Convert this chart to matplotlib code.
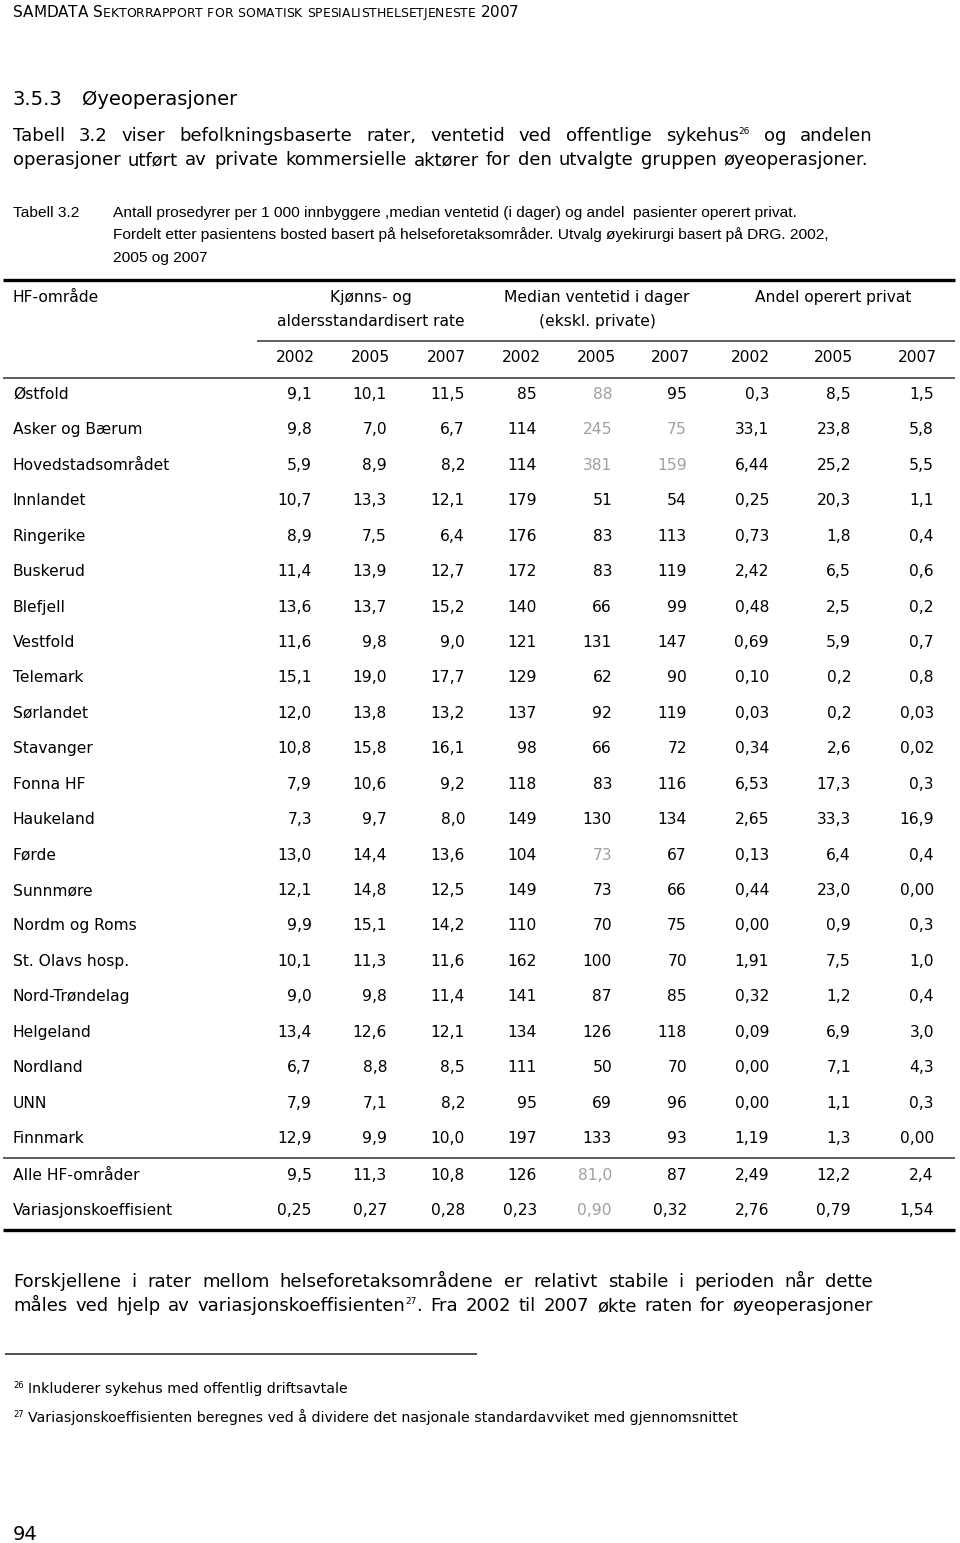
import re
import matplotlib
matplotlib.use("Agg")
import matplotlib.pyplot as plt

# ---- table data ----
regions = ["Østfold", "Asker og Bærum", "Hovedstadsområdet", "Innlandet", "Ringerike",
           "Buskerud", "Blefjell", "Vestfold", "Telemark", "Sørlandet", "Stavanger",
           "Fonna HF", "Haukeland", "Førde", "Sunnmøre", "Nordm og Roms", "St. Olavs hosp.",
           "Nord-Trøndelag", "Helgeland", "Nordland", "UNN", "Finnmark"]

rate_2002 = ["9,1", "9,8", "5,9", "10,7", "8,9", "11,4", "13,6", "11,6", "15,1", "12,0", "10,8",
             "7,9", "7,3", "13,0", "12,1", "9,9", "10,1", "9,0", "13,4", "6,7", "7,9", "12,9"]
rate_2005 = ["10,1", "7,0", "8,9", "13,3", "7,5", "13,9", "13,7", "9,8", "19,0", "13,8", "15,8",
             "10,6", "9,7", "14,4", "14,8", "15,1", "11,3", "9,8", "12,6", "8,8", "7,1", "9,9"]
rate_2007 = ["11,5", "6,7", "8,2", "12,1", "6,4", "12,7", "15,2", "9,0", "17,7", "13,2", "16,1",
             "9,2", "8,0", "13,6", "12,5", "14,2", "11,6", "11,4", "12,1", "8,5", "8,2", "10,0"]
wait_2002 = ["85", "114", "114", "179", "176", "172", "140", "121", "129", "137", "98",
             "118", "149", "104", "149", "110", "162", "141", "134", "111", "95", "197"]
wait_2005 = ["88", "245", "381", "51", "83", "83", "66", "131", "62", "92", "66",
             "83", "130", "73", "73", "70", "100", "87", "126", "50", "69", "133"]
wait_2007 = ["95", "75", "159", "54", "113", "119", "99", "147", "90", "119", "72",
             "116", "134", "67", "66", "75", "70", "85", "118", "70", "96", "93"]
priv_2002 = ["0,3", "33,1", "6,44", "0,25", "0,73", "2,42", "0,48", "0,69", "0,10", "0,03", "0,34",
             "6,53", "2,65", "0,13", "0,44", "0,00", "1,91", "0,32", "0,09", "0,00", "0,00", "1,19"]
priv_2005 = ["8,5", "23,8", "25,2", "20,3", "1,8", "6,5", "2,5", "5,9", "0,2", "0,2", "2,6",
             "17,3", "33,3", "6,4", "23,0", "0,9", "7,5", "1,2", "6,9", "7,1", "1,1", "1,3"]
priv_2007 = ["1,5", "5,8", "5,5", "1,1", "0,4", "0,6", "0,2", "0,7", "0,8", "0,03", "0,02",
             "0,3", "16,9", "0,4", "0,00", "0,3", "1,0", "0,4", "3,0", "4,3", "0,3", "0,00"]

summary_labels = ["Alle HF-områder", "Variasjonskoeffisient"]
alle_hf = ["9,5", "11,3", "10,8", "126", "81,0", "87", "2,49", "12,2", "2,4"]
var_koeff = ["0,25", "0,27", "0,28", "0,23", "0,90", "0,32", "2,76", "0,79", "1,54"]

years = ["2002", "2005", "2007"] * 3
grey_cells = [(0, 4), (1, 4), (1, 5), (2, 4), (2, 5), (13, 4)]
grey_summary = [(0, 4), (1, 4)]

# ---- layout ----
W, H = 960, 1543
fig = plt.figure(figsize=(9.6, 15.43), dpi=100)
ax = fig.add_axes([0, 0, 1, 1])
ax.set_xlim(0, W)
ax.set_ylim(H, 0)
ax.axis("off")
fig.canvas.draw()
rend = fig.canvas.get_renderer()

VERD = "DejaVu Sans"
ARIAL = "Liberation Sans"
GREY = "#a0a0a0"


def width(s, size, family):
    t = ax.text(0, 0, s, fontsize=size, family=family)
    w = t.get_window_extent(renderer=rend).width
    t.remove()
    return w


def space_w(size, family):
    return width("a a", size, family) - width("aa", size, family)


def draw_runs(x, y, runs, family, color="black", draw=True):
    # runs: (text, size, rise)
    for s, size, rise in runs:
        if draw:
            ax.text(x, y - rise, s, fontsize=size, family=family, va="baseline",
                    ha="left", color=color)
        x += width(s, size, family)
    return x


def word_runs(word, size):
    runs = []
    for part in re.split(r"(\^\d+)", word):
        if not part:
            continue
        if part.startswith("^"):
            runs.append((part[1:], size * 0.5, size * 0.55))
        else:
            runs.append((part, size, 0))
    return runs


def justify(line, x0, x1, y, size, family=VERD):
    words = [word_runs(w, size) for w in line.split()]
    ws = [draw_runs(0, 0, r, family, draw=False) for r in words]
    gap = (x1 - x0 - sum(ws)) / (len(words) - 1)
    x = x0
    for r, w in zip(words, ws):
        draw_runs(x, y, r, family)
        x += w + gap


def small_caps(x, y, s, big, small, family=VERD):
    sp = space_w(big, family)
    for w in s.split():
        runs = []
        for ch in w:
            if ch.islower():
                runs.append((ch.upper(), small, 0))
            else:
                runs.append((ch, big, 0))
        x = draw_runs(x, y, runs, family) + sp


# running head
small_caps(13, 17, "SAMDATA Sektorrapport for somatisk spesialisthelsetjeneste 2007", 11.0, 8.95)

# heading
ax.text(13, 105, "3.5.3", fontsize=14, family=VERD, va="baseline")
ax.text(82, 105, "Øyeoperasjoner", fontsize=14, family=VERD, va="baseline")

# paragraph
BODY = 13.0
justify("Tabell 3.2 viser befolkningsbaserte rater, ventetid ved offentlige sykehus^26 og andelen",
        13, 873, 141, BODY)
justify("operasjoner utført av private kommersielle aktører for den utvalgte gruppen øyeoperasjoner.",
        13, 868, 165, BODY)

# caption
CAP = 11.15
ax.text(13, 217, "Tabell 3.2", fontsize=CAP, family=ARIAL, va="baseline")
cap_lines = ["Antall prosedyrer per 1 000 innbyggere ,median ventetid (i dager) og andel  pasienter operert privat.",
             "Fordelt etter pasientens bosted basert på helseforetaksområder. Utvalg øyekirurgi basert på DRG. 2002,",
             "2005 og 2007"]
for i, s in enumerate(cap_lines):
    ax.text(113, 217 + 22.5 * i, s, fontsize=CAP, family=ARIAL, va="baseline")

# table
TS = 11.2
columns = [rate_2002, rate_2005, rate_2007, wait_2002, wait_2005, wait_2007,
           priv_2002, priv_2005, priv_2007]
col_right = [312, 387, 465, 537, 612, 687, 769, 851, 934]
head_right = [315, 390, 466, 541, 616, 690, 770, 853, 937]

ax.hlines(280, 3, 955, color="black", lw=2.4)
ax.hlines(341, 257, 955, color="#333333", lw=1.1)
ax.hlines(378, 3, 955, color="#333333", lw=1.1)
ax.hlines(1158, 3, 955, color="#333333", lw=1.1)
ax.hlines(1230, 3, 955, color="black", lw=2.4)

ax.text(13, 302, "HF-område", fontsize=TS, family=VERD, va="baseline")
groups = [("Kjønns- og", "aldersstandardisert rate", 371),
          ("Median ventetid i dager", "(ekskl. private)", 597),
          ("Andel operert privat", "", 833)]
for l1, l2, cx in groups:
    ax.text(cx, 302, l1, fontsize=TS, family=VERD, va="baseline", ha="center")
    if l2:
        ax.text(cx, 326, l2, fontsize=TS, family=VERD, va="baseline", ha="center")
for yr, xr in zip(years, head_right):
    ax.text(xr, 362, yr, fontsize=TS, family=VERD, va="baseline", ha="right")

for i, name in enumerate(regions):
    yb = 399 + 35.43 * i
    ax.text(13, yb, name, fontsize=TS, family=VERD, va="baseline")
    for j, col in enumerate(columns):
        c = GREY if (i, j) in grey_cells else "black"
        ax.text(col_right[j], yb, col[i], fontsize=TS, family=VERD, va="baseline",
                ha="right", color=c)

for i, (name, vals) in enumerate(zip(summary_labels, [alle_hf, var_koeff])):
    yb = 1180 + 35 * i
    ax.text(13, yb, name, fontsize=TS, family=VERD, va="baseline")
    for j, v in enumerate(vals):
        c = GREY if (i, j) in grey_summary else "black"
        ax.text(col_right[j], yb, v, fontsize=TS, family=VERD, va="baseline",
                ha="right", color=c)

# closing paragraph
justify("Forskjellene i rater mellom helseforetaksområdene er relativt stabile i perioden når dette",
        13, 873, 1287, BODY)
justify("måles ved hjelp av variasjonskoeffisienten^27. Fra 2002 til 2007 økte raten for øyeoperasjoner",
        13, 873, 1311, BODY)

# footnotes
ax.hlines(1354, 5, 477, color="#444444", lw=1.3)
FN = 10.2
notes = [("26", "Inkluderer sykehus med offentlig driftsavtale", 1393),
         ("27", "Variasjonskoeffisienten beregnes ved å dividere det nasjonale standardavviket med gjennomsnittet", 1422)]
for num, s, yb in notes:
    ax.text(13, yb - 5, num, fontsize=6, family=VERD, va="baseline")
    ax.text(28, yb, s, fontsize=FN, family=VERD, va="baseline")

ax.text(13, 1540, "94", fontsize=14, family=VERD, va="baseline")

fig.savefig("out.png", dpi=100)
